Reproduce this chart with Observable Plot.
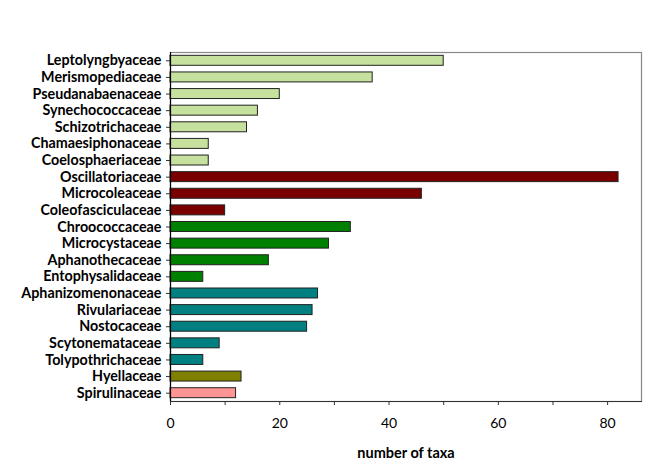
<!DOCTYPE html>
<html><head><meta charset="utf-8">
<script src="https://cdn.jsdelivr.net/npm/d3@7"></script>
<script src="https://cdn.jsdelivr.net/npm/@observablehq/plot@0.6"></script>
<style>body{margin:0;background:#fff}</style>
</head><body><div id="chart"></div>
<script>
const families = ["Leptolyngbyaceae","Merismopediaceae","Pseudanabaenaceae","Synechococcaceae","Schizotrichaceae","Chamaesiphonaceae","Coelosphaeriaceae","Oscillatoriaceae","Microcoleaceae","Coleofasciculaceae","Chroococcaceae","Microcystaceae","Aphanothecaceae","Entophysalidaceae","Aphanizomenonaceae","Rivulariaceae","Nostocaceae","Scytonemataceae","Tolypothrichaceae","Hyellaceae","Spirulinaceae"];
const taxa = [50,37,20,16,14,7,7,82,46,10,33,29,18,6,27,26,25,9,6,13,12];
const groups = ["Synechococcales","Synechococcales","Synechococcales","Synechococcales","Synechococcales","Synechococcales","Synechococcales","Oscillatoriales","Oscillatoriales","Oscillatoriales","Chroococcales","Chroococcales","Chroococcales","Chroococcales","Nostocales","Nostocales","Nostocales","Nostocales","Nostocales","Pleurocapsales","Spirulinales"];
const groupNames = ["Synechococcales","Oscillatoriales","Chroococcales","Nostocales","Pleurocapsales","Spirulinales"];
const groupColors = ["#c6e09e","#7a0000","#008000","#008080","#808000","#ff9494"];
const majorTicks = [0,20,40,60,80];
const minorTicks = [10,30,50,70];

const data = families.map((f,i)=>({family:f, taxa:taxa[i], group:groups[i]}));

const chart = Plot.plot({
  width: 668, height: 467,
  marginLeft: 170, marginRight: 27, marginTop: 52, marginBottom: 66,
  style: {fontFamily: "Lato, sans-serif", background: "#fff"},
  x: {domain: [0, 86.2]},
  y: {domain: families, paddingInner: 0.4, paddingOuter: 0.2, round: false},
  color: {domain: groupNames, range: groupColors},
  marks: [
    Plot.frame({stroke: "#888", strokeWidth: 1.2}),
    Plot.barX(data, {y: "family", x: "taxa", fill: "group", stroke: "#222", strokeWidth: 1}),
    Plot.axisX({ticks: minorTicks, tickFormat: () => "", tickSize: 4, label: null, stroke: "#333"}),
    Plot.axisX({ticks: majorTicks, tickSize: 4, tickPadding: 13, fontSize: 14, label: "number of taxa", labelAnchor: "center", labelArrow: "none", labelOffset: 56, fill: "#000", stroke: "#333"}),
    Plot.axisY({tickSize: 4, tickPadding: 5, fontSize: 14.3, fontWeight: "bold", label: null, fill: "#000", stroke: "#333"}),
    Plot.frame({anchor: "left", stroke: "#000", strokeWidth: 1.2}),
    Plot.frame({anchor: "bottom", stroke: "#333", strokeWidth: 1})
  ]
});
document.getElementById("chart").appendChild(chart);
d3.select(chart).selectAll("[aria-label='x-axis label'] text").style("font-weight","bold").style("font-size","14.5px");
</script>
</body></html>
